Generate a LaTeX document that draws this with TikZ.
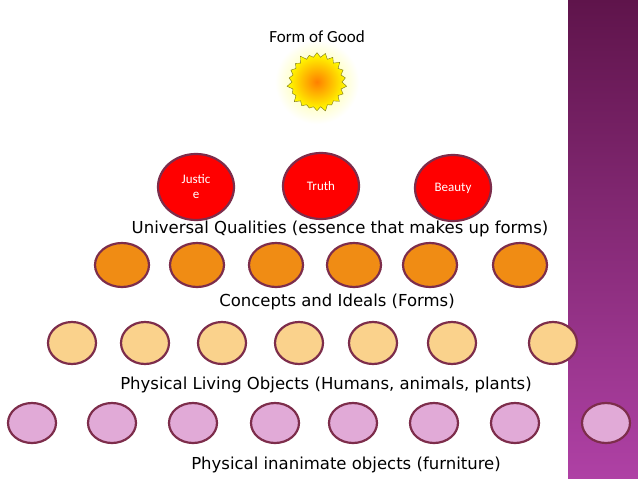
\documentclass[tikz,border=0pt]{standalone}
\usepackage{fontspec}
\setmainfont{Carlito}
\newfontfamily\lbl{DejaVu Sans}
\usetikzlibrary{shapes.geometric,shapes.symbols}
\definecolor{ring}{RGB}{125,45,75}
\definecolor{orng}{RGB}{240,140,20}
\definecolor{tan}{RGB}{250,210,140}
\definecolor{pnk}{RGB}{225,170,215}
\definecolor{bandtop}{RGB}{95,20,75}
\definecolor{bandbot}{RGB}{175,65,165}
\tikzset{
 redov/.style={ellipse,draw=ring,line width=2.2pt,fill=red,minimum width=76pt,minimum height=66pt,text=white,font=\fontsize{13}{15}\selectfont,align=center},
 orov/.style={ellipse,draw=ring,line width=2.2pt,fill=orng,minimum width=54pt,minimum height=44pt},
 tanov/.style={ellipse,draw=ring,line width=2.2pt,fill=tan,minimum width=48pt,minimum height=42pt},
 pkov/.style={ellipse,draw=ring,line width=2.2pt,fill=pnk,minimum width=48pt,minimum height=40pt},
 lab/.style={font=\lbl\fontsize{16.5}{18}\selectfont}
}
\begin{document}
\begin{tikzpicture}[x=1pt,y=-1pt]
\useasboundingbox (0,0) rectangle (638,479);
\fill[white] (0,0) rectangle (638,479);
\shade[top color=bandtop,bottom color=bandbot] (568,0) rectangle (638,479);
\shade[inner color=yellow!50,outer color=white] (317,82) circle (42);
\node[font=\fontsize{17}{19}\selectfont] (fog) at (317,37) {Form of Good};
\node[starburst,starburst points=22,starburst point height=6pt,minimum size=62pt,draw=olive!80!black,inner color=orange,outer color=yellow,shading=radial] (sun) at (317,82) {};
\node[redov] (j) at (196,187) {Justic\\e};
\node[redov] (t) at (321,186) {Truth};
\node[redov] (b) at (453,188) {Beauty};
\node[lab] (l1) at (340,229) {Universal Qualities (essence that makes up forms)};
\foreach \x [count=\i] in {122,197,276,354,430,520} \node[orov] (o\i) at (\x,265) {};
\node[lab] (l2) at (337,302) {Concepts and Ideals (Forms)};
\foreach \x [count=\i] in {72,145,222,299,373,452,553} \node[tanov] (t\i) at (\x,343) {};
\node[lab] (l3) at (326,385) {Physical Living Objects (Humans, animals, plants)};
\foreach \x [count=\i] in {32,112,193,275,353,434,515,606} \node[pkov] (p\i) at (\x,423) {};
\node[lab] (l4) at (346,465) {Physical inanimate objects (furniture)};
\end{tikzpicture}
\end{document}
